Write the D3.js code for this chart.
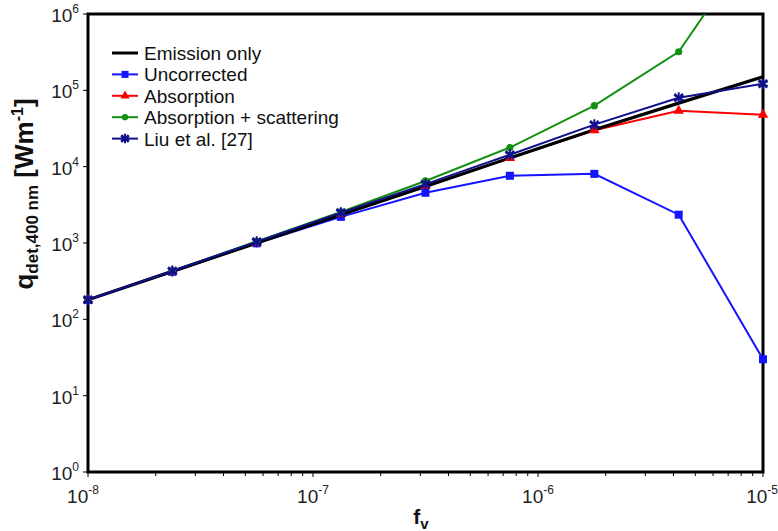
<!DOCTYPE html>
<html>
<head>
<meta charset="utf-8">
<script src="https://cdn.jsdelivr.net/npm/d3@7"></script>
<style>
  html, body { margin: 0; padding: 0; background: #fff; }
  svg { display: block; font-family: "Liberation Sans", Arial, sans-serif; }
</style>
</head>
<body>
<svg id="chart" width="778" height="531"></svg>
<script>
// Soot volume fraction (x) and detected signal for each correction scheme
const fv = [1e-8, 2.37e-8, 5.62e-8, 1.33e-7, 3.16e-7, 7.5e-7, 1.78e-6, 4.22e-6, 1e-5];
const emissionOnly = [180, 425, 1000, 2350, 5500, 13000, 30500, 68000, 150000];
const uncorrected  = [180, 420, 990, 2200, 4550, 7600, 8050, 2350, 30];
const absorption   = [180, 425, 1010, 2400, 5600, 13000, 30000, 54000, 48000];
const absScatter   = [180, 430, 1050, 2550, 6500, 17800, 63000, 320000, 1.3e7];
const liu          = [180, 430, 1040, 2500, 5900, 14300, 35500, 80000, 122000];

const seriesNames = ["Emission only", "Uncorrected", "Absorption", "Absorption + scattering", "Liu et al. [27]"];
const seriesColors = ["#000000", "#1414ff", "#ff0000", "#129012", "#10108a"];
const seriesMarkers = ["none", "square", "triangle", "circle", "star"];
const seriesValues = [emissionOnly, uncorrected, absorption, absScatter, liu];

const yTickExps = [0, 1, 2, 3, 4, 5, 6];
const xTickExps = [-8, -7, -6, -5];

const svg = d3.select("#chart");
const m = { left: 88, top: 14, right: 763, bottom: 472 };

const x = d3.scaleLog().domain([1e-8, 1e-5]).range([m.left, m.right]);
const y = d3.scaleLog().domain([1, 1e6]).range([m.bottom, m.top]);

// clip for lines running off the top
svg.append("defs").append("clipPath").attr("id", "plotclip")
  .append("rect").attr("x", m.left).attr("y", m.top)
  .attr("width", m.right - m.left).attr("height", m.bottom - m.top);

// x axis minor + major ticks (pointing down)
const xMinor = [];
for (let e = -8; e < -5; e++) for (let k = 2; k <= 9; k++) xMinor.push(k * Math.pow(10, e));
svg.append("g").selectAll("line").data(xMinor).join("line")
  .attr("x1", d => x(d)).attr("x2", d => x(d))
  .attr("y1", m.bottom).attr("y2", m.bottom + 4)
  .attr("stroke", "#000").attr("stroke-width", 1);
svg.append("g").selectAll("line").data(xTickExps).join("line")
  .attr("x1", d => x(Math.pow(10, d))).attr("x2", d => x(Math.pow(10, d)))
  .attr("y1", m.bottom).attr("y2", m.bottom + 5)
  .attr("stroke", "#000").attr("stroke-width", 1);

// y axis major ticks (pointing left)
svg.append("g").selectAll("line").data(yTickExps).join("line")
  .attr("x1", m.left - 5).attr("x2", m.left)
  .attr("y1", d => y(Math.pow(10, d))).attr("y2", d => y(Math.pow(10, d)))
  .attr("stroke", "#000").attr("stroke-width", 1);

// tick labels with superscript exponents
const yLab = svg.append("g").selectAll("text").data(yTickExps).join("text")
  .attr("x", m.left - 9).attr("y", d => y(Math.pow(10, d)) + 8)
  .attr("text-anchor", "end").attr("font-size", 19).attr("fill", "#222");
yLab.append("tspan").text("10");
yLab.append("tspan").attr("font-size", 12).attr("dy", -9).text(d => d);

const xLab = svg.append("g").selectAll("text").data(xTickExps).join("text")
  .attr("x", d => d === -5 ? 778 : x(Math.pow(10, d)) + (d === -8 ? -5 : 0))
  .attr("y", 503)
  .attr("text-anchor", d => d === -5 ? "end" : "middle")
  .attr("font-size", 19).attr("fill", "#222");
xLab.append("tspan").text("10");
xLab.append("tspan").attr("font-size", 12).attr("dy", -9).text(d => d);

// series lines and markers
const line = d3.line().x(d => x(d[0])).y(d => y(d[1]));
const plot = svg.append("g").attr("clip-path", "url(#plotclip)");
const marks = svg.append("g");

function drawMarker(g, type, color, size) {
  if (type === "square") {
    g.append("rect").attr("x", -size / 2).attr("y", -size / 2)
      .attr("width", size).attr("height", size).attr("fill", color);
  } else if (type === "triangle") {
    g.append("path").attr("d", d3.symbol(d3.symbolTriangle, size * size * 0.75)())
      .attr("fill", color);
  } else if (type === "circle") {
    g.append("circle").attr("r", size * 0.45).attr("fill", color);
  } else if (type === "star") {
    g.append("path").attr("d", d3.symbol(d3.symbolAsterisk, size * size * 1.3)())
      .attr("stroke", color).attr("stroke-width", 2).attr("fill", "none");
    g.append("path").attr("d", d3.symbol(d3.symbolTimes, size * size * 0.7)())
      .attr("stroke", color).attr("stroke-width", 2).attr("fill", "none");
  }
}

// frame
svg.insert("rect", "g").attr("x", m.left).attr("y", m.top)
  .attr("width", m.right - m.left).attr("height", m.bottom - m.top)
  .attr("fill", "none").attr("stroke", "#000").attr("stroke-width", 3);

const order = [1, 2, 3, 0, 4];
order.forEach(i => {
  const pts = fv.map((f, j) => [f, seriesValues[i][j]]);
  plot.append("path").datum(pts).attr("d", line)
    .attr("fill", "none").attr("stroke", seriesColors[i])
    .attr("stroke-width", i === 0 ? 3.2 : 2);
  if (seriesMarkers[i] !== "none") {
    pts.filter(p => p[1] <= 1e6).forEach(p => {
      const g = marks.append("g").attr("transform", `translate(${x(p[0])},${y(p[1])})`);
      drawMarker(g, seriesMarkers[i], seriesColors[i], 8);
    });
  }
});

// legend
const legend = svg.append("g");
seriesNames.forEach((name, i) => {
  const ly = 53 + i * 21.4;
  legend.append("line").attr("x1", 112).attr("x2", 138).attr("y1", ly).attr("y2", ly)
    .attr("stroke", seriesColors[i]).attr("stroke-width", i === 0 ? 3 : 2);
  if (seriesMarkers[i] !== "none") {
    const g = legend.append("g").attr("transform", `translate(125,${ly})`);
    drawMarker(g, seriesMarkers[i], seriesColors[i], 7);
  }
  legend.append("text").attr("x", 144).attr("y", ly + 7)
    .attr("font-size", 19).attr("fill", "#111").text(name);
});

// axis titles
const yt = svg.append("text")
  .attr("transform", "translate(33,194) rotate(-90)")
  .attr("text-anchor", "middle").attr("font-weight", "bold").attr("font-size", 26).attr("fill", "#111");
yt.append("tspan").text("q");
yt.append("tspan").attr("font-size", 17).attr("dy", 5).text("det,400 nm");
yt.append("tspan").attr("dy", -5).text(" [Wm");
yt.append("tspan").attr("font-size", 16).attr("dy", -10).text("-1");
yt.append("tspan").attr("dy", 10).text("]");

const xt = svg.append("text").attr("x", 421).attr("y", 524)
  .attr("text-anchor", "middle").attr("font-weight", "bold").attr("font-size", 21).attr("fill", "#111");
xt.append("tspan").text("f");
xt.append("tspan").attr("font-size", 15).attr("dy", 5).text("v");
</script>
</body>
</html>
